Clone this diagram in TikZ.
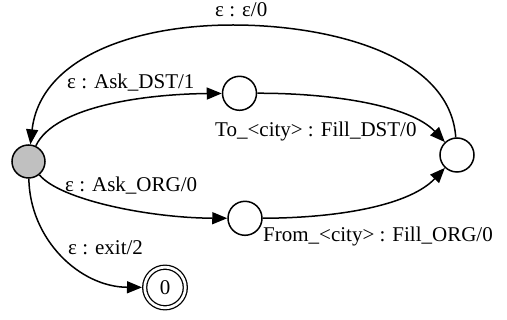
\documentclass[tikz,border=0pt]{standalone}
\usepackage{fontspec}
\setmainfont{Liberation Serif}
\usetikzlibrary{arrows.meta}
\definecolor{stgray}{RGB}{192,192,192}
\tikzset{
  state/.style={circle,draw=black,line width=1.5pt,minimum size=34pt,inner sep=0pt},
  startstate/.style={state,fill=stgray,minimum size=33pt},
  finalstate/.style={state,minimum size=40.6pt,double=white,double distance=2.7pt,line width=1.3pt,outer sep=2.7pt},
  lbl/.style={anchor=base west,inner sep=0pt,font=\fontsize{21}{25}\selectfont},
  edge/.style={line width=1.5pt,-{Triangle[length=15pt,width=12pt]}},
}
\begin{document}
\begin{tikzpicture}[x=1pt,y=-1pt]
\useasboundingbox (0,0) rectangle (507,320);
\node[startstate] (s) at (28.5,161.5) {};
\node[state] (u) at (239.5,93.3) {};
\node[state] (r) at (457,155) {};
\node[state] (l) at (245,218.3) {};
\node[finalstate,font=\fontsize{21}{25}\selectfont] (f) at (165,287.5) {0};
\coordinate (peak) at (233,25);
% edges
\draw[line width=1.5pt] (r) .. controls (450,55) and (330,25) .. (peak);
\draw[edge] (peak) .. controls (130,25) and (40,60) .. (s);
\draw[edge] (s) .. controls (55,105) and (150,94) .. (u);
\draw[edge] (u) .. controls (330,93) and (410,105) .. (r);
\draw[edge] (s) .. controls (60,200) and (150,218) .. (l);
\draw[edge] (l) .. controls (340,218) and (410,205) .. (r);
\draw[edge] (s) .. controls (30,240) and (80,287) .. (f);
% labels
\node[lbl] (t1) at (215,17) {ε : ε/0};
\node[lbl] (t2) at (67,89) {ε : Ask\_DST/1};
\node[lbl] (t3) at (215,137) {To\_<city> : Fill\_DST/0};
\node[lbl] (t4) at (65,192) {ε : Ask\_ORG/0};
\node[lbl] (t5) at (263,242) {From\_<city> : Fill\_ORG/0};
\node[lbl] (t6) at (68,255) {ε : exit/2};
\end{tikzpicture}
\end{document}
